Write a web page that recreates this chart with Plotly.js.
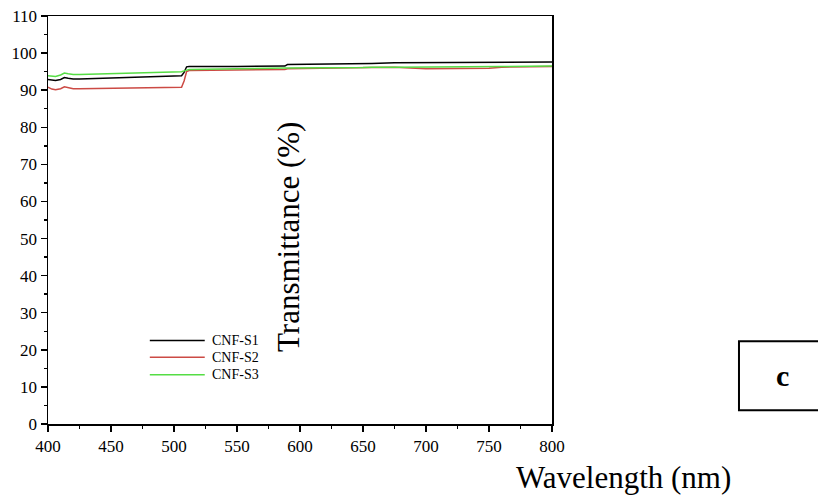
<!DOCTYPE html>
<html>
<head>
<meta charset="utf-8">
<script src="https://cdn.plot.ly/plotly-3.0.1.min.js"></script>
<style>html,body{margin:0;padding:0;background:#fff;}#chart{width:818px;height:497px;}</style>
</head>
<body>
<div id="chart"></div>
<script>
const wavelength = [400, 403, 406, 410, 413, 416, 420, 425, 450, 475, 500, 506, 508, 510, 512, 550, 588, 590, 650, 657, 675, 700, 750, 760, 800];
const cnfS1 = [92.9, 92.7, 92.6, 92.9, 93.4, 93.2, 93.0, 93.0, 93.2, 93.5, 93.8, 93.9, 94.8, 96.3, 96.4, 96.4, 96.5, 96.9, 97.0, 97.2, 97.4, 97.4, 97.4, 97.6, 97.6];
const cnfS2 = [90.8, 90.3, 90.1, 90.4, 90.9, 90.7, 90.4, 90.4, 90.5, 90.6, 90.7, 90.8, 92.5, 95.0, 95.3, 95.4, 95.6, 95.8, 95.9, 96.1, 96.2, 95.8, 95.9, 96.2, 96.4];
const cnfS3 = [93.9, 93.7, 93.7, 94.1, 94.6, 94.4, 94.2, 94.2, 94.4, 94.7, 94.9, 95.0, 95.2, 95.5, 95.6, 95.8, 96.0, 96.0, 96.1, 96.2, 96.2, 96.2, 96.3, 96.4, 96.5];
const seriesNames = ["CNF-S1", "CNF-S2", "CNF-S3"];
const xTicks = [400, 450, 500, 550, 600, 650, 700, 750, 800];
const yTicks = [0, 10, 20, 30, 40, 50, 60, 70, 80, 90, 100, 110];

const colors = ["#000000", "#cc4a44", "#55dd44"];
const ys = [cnfS1, cnfS2, cnfS3];
const traces = ys.map((y, i) => ({
  x: wavelength, y: y, type: "scatter", mode: "lines", name: seriesNames[i],
  line: {color: colors[i], width: 1.5}
}));

const serif = "'Liberation Serif', 'Times New Roman', serif";

// hand-drawn legend (short line + label), paper coordinates
const legendRowsY = [0.2045, 0.1636, 0.121];
const legendShapes = seriesNames.map((n, i) => ({
  type: "line", xref: "paper", yref: "paper", x0: 0.202, x1: 0.311,
  y0: legendRowsY[i], y1: legendRowsY[i], line: {color: colors[i], width: 1.5}
}));
const legendLabels = seriesNames.map((n, i) => ({
  text: n, xref: "paper", yref: "paper", x: 0.321, y: legendRowsY[i],
  xanchor: "left", yanchor: "middle", showarrow: false,
  font: {family: serif, size: 14, color: "#000"}
}));

const layout = {
  width: 818, height: 497,
  margin: {l: 48, r: 266, t: 16, b: 73},
  paper_bgcolor: "#fff", plot_bgcolor: "#fff",
  font: {family: serif, color: "#000"},
  showlegend: false,
  xaxis: {range: [400, 800], tickvals: xTicks, ticktext: xTicks.map(String),
    showgrid: false, zeroline: false, showline: true, linecolor: "#000", linewidth: 1.5, mirror: true,
    ticks: "outside", ticklen: 6, tickwidth: 1.5, tickcolor: "#000",
    minor: {dtick: 25, ticks: "outside", ticklen: 3, tickwidth: 1.5, tickcolor: "#000", showgrid: false},
    tickfont: {family: serif, size: 17, color: "#000"}},
  yaxis: {range: [0, 110], tickvals: yTicks, ticktext: yTicks.map(String),
    showgrid: false, zeroline: false, showline: true, linecolor: "#000", linewidth: 1.5, mirror: true,
    ticks: "outside", ticklen: 6, tickwidth: 1.5, tickcolor: "#000",
    minor: {dtick: 5, ticks: "outside", ticklen: 3, tickwidth: 1.5, tickcolor: "#000", showgrid: false},
    tickfont: {family: serif, size: 17, color: "#000"}},
  annotations: [
    {text: "Transmittance (%)", xref: "paper", yref: "paper", x: 0.476, y: 0.458,
     xanchor: "center", yanchor: "middle",
     textangle: -90, showarrow: false, font: {family: serif, size: 31, color: "#000"}},
    {text: "Wavelength (nm)", xref: "paper", yref: "paper", x: 1.142, y: -0.13,
     xanchor: "center", yanchor: "middle",
     showarrow: false, font: {family: serif, size: 31, color: "#000"}},
    {text: "<b>c</b>", xref: "paper", yref: "paper", x: 1.458, y: 0.12,
     xanchor: "center", yanchor: "middle",
     showarrow: false, font: {family: serif, size: 30, color: "#000"}}
  ].concat(legendLabels),
  shapes: [
    {type: "rect", xref: "paper", yref: "paper", x0: 1.371, x1: 1.54, y0: 0.034, y1: 0.203,
     line: {color: "#000", width: 2}, fillcolor: "rgba(0,0,0,0)"}
  ].concat(legendShapes)
};
Plotly.newPlot("chart", traces, layout, {displayModeBar: false, staticPlot: true});
</script>
</body>
</html>
